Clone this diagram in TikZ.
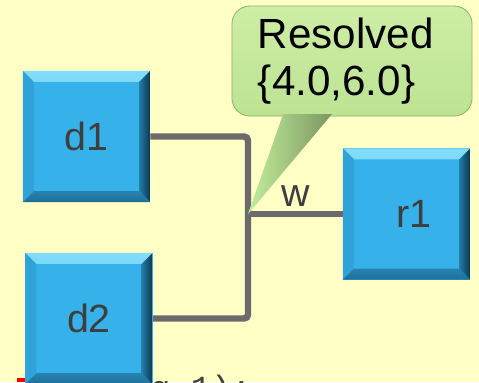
\documentclass[tikz,border=0pt]{standalone}
\usepackage{fontspec}
\setmainfont{Liberation Sans}
\newfontfamily\codefont{Liberation Mono}
\definecolor{paper}{HTML}{FFFFC6}
\definecolor{boxblue}{HTML}{36B1EA}
\definecolor{bevtop}{HTML}{82DDFA}
\definecolor{bevleft}{HTML}{2FA3D8}
\definecolor{bevright}{HTML}{0B3650}
\definecolor{bevbot}{HTML}{1F6F98}
\definecolor{wiregray}{HTML}{6B6B6B}
\definecolor{labelgray}{HTML}{3E3E3E}
\definecolor{calltop}{HTML}{CDEEA6}
\definecolor{callbot}{HTML}{BCE392}
\definecolor{callrim}{HTML}{8DB567}
\tikzset{
  blk/.style={fill=boxblue, minimum width=3.175cm, minimum height=3.275cm,
    inner sep=0pt, text=labelgray, font=\fontsize{28}{30}\selectfont,
    path picture={
      \def\bb{path picture bounding box}
      \shade[top color=bevtop, bottom color=boxblue]
        (\bb.north west) -- (\bb.north east)
        -- ([shift={(-0.27cm,-0.27cm)}]\bb.north east)
        -- ([shift={(0.27cm,-0.27cm)}]\bb.north west) -- cycle;
      \fill[bevleft]
        (\bb.north west) -- ([shift={(0.27cm,-0.27cm)}]\bb.north west)
        -- ([shift={(0.27cm,0.27cm)}]\bb.south west) -- (\bb.south west) -- cycle;
      \shade[left color=bevbot!80!boxblue, right color=bevright]
        (\bb.north east) -- (\bb.south east)
        -- ([shift={(-0.27cm,0.27cm)}]\bb.south east)
        -- ([shift={(-0.27cm,-0.27cm)}]\bb.north east) -- cycle;
      \shade[top color=bevbot!70!boxblue, bottom color=bevbot]
        (\bb.south west) -- (\bb.south east)
        -- ([shift={(-0.27cm,0.27cm)}]\bb.south east)
        -- ([shift={(0.27cm,0.27cm)}]\bb.south west) -- cycle;
    }},
  wire/.style={draw=wiregray, line width=4.6pt, rounded corners=0.1cm},
  callout/.style={top color=calltop, bottom color=callbot, draw=callrim,
    line width=0.6pt, rounded corners=0.45cm, align=left, text=black,
    minimum width=6cm, minimum height=2.75cm, inner xsep=0.65cm,
    text width=4.7cm, font=\fontsize{30}{34}\selectfont}
}
\begin{document}
\begin{tikzpicture}[x=0.025cm, y=-0.025cm]
  \useasboundingbox (0,0) rectangle (479,382);
  \fill[paper] (0,0) rectangle (479,382);
  % code line peeking in at the bottom edge
  \fill[red] (17,378) rectangle (25,382);
  \node[anchor=base west, inner sep=0pt, text=labelgray,
    font=\codefont\fontsize{24}{24}\selectfont] (code) at (150,399) {g,1);};
  \node[blk] at ( 86.5,136.5) (d1) {d1};
  \node[blk] at ( 89  ,318.5) (d2) {d2};
  \node[blk] at (406.5,214  ) (r1) {\hspace{0.35cm}r1};
  \coordinate (jn) at (248,214);
  \draw[wire] (d1.east) -| (jn) |- (d2.east);
  \draw[wire] (jn) -- (r1.west) node[midway, above, text=labelgray,
    font=\fontsize{28}{30}\selectfont] (w) {w};
  \node[callout] at (352,61) (call) {\raisebox{-0.07cm}{Resolved}\\\raisebox{-0.07cm}{\{4.0,6.0\}}};
  \shade[left color=calltop!90!green!60!calltop, right color=callbot!55!black!75!callbot]
    ([xshift=-1.72cm,yshift=0.06cm]call.south) -- (jn)
    -- ([xshift=-0.5cm,yshift=0.06cm]call.south) -- cycle;
\end{tikzpicture}
\end{document}
